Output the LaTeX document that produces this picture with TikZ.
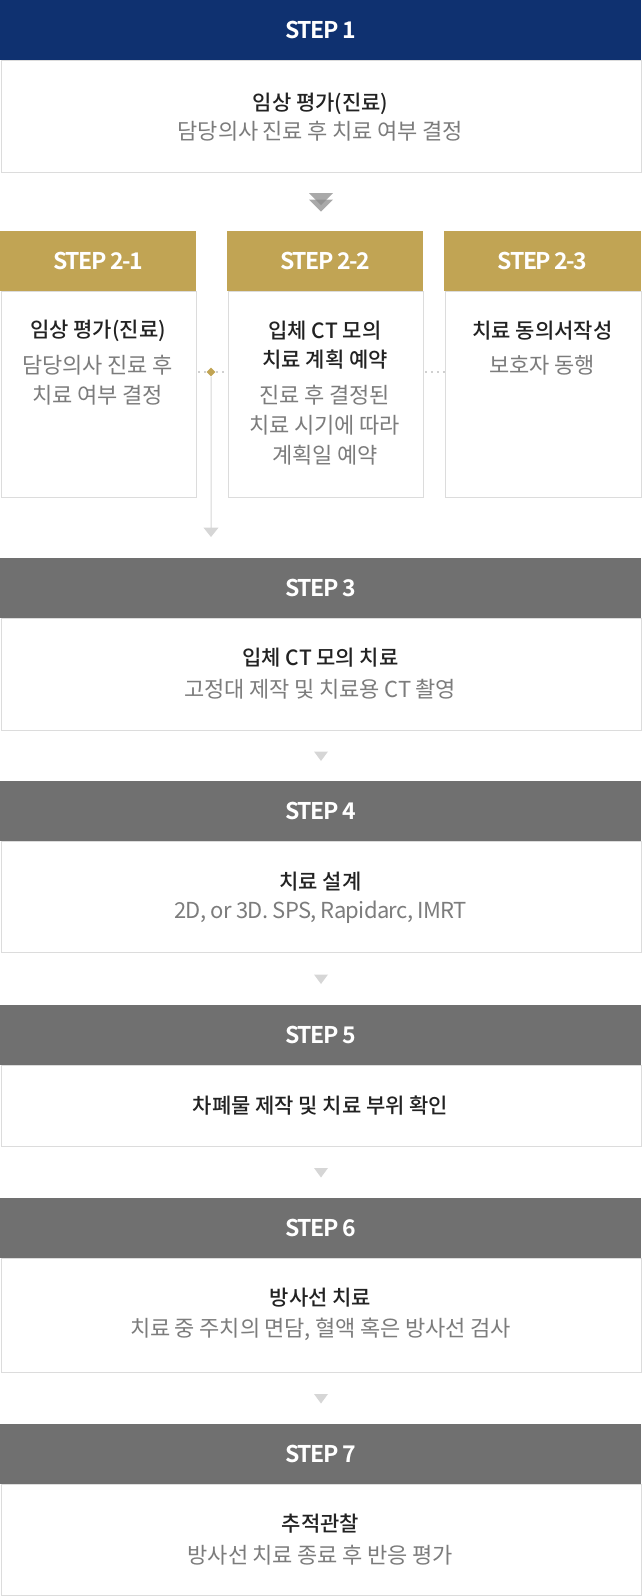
\documentclass[tikz,border=0pt]{standalone}
\usepackage{fontspec}
\setmainfont{Noto Sans CJK KR}
\newfontfamily\krmed{Noto Sans CJK KR Medium}
\newfontfamily\krstep[LetterSpace=-6.5]{Noto Sans CJK KR Bold}
\newfontfamily\krlat[LetterSpace=-3]{Noto Sans CJK KR}
\newfontfamily\krsub[LetterSpace=-1]{Noto Sans CJK KR}
\usetikzlibrary{calc,arrows.meta}
\definecolor{navy}{HTML}{0F3170}
\definecolor{gold}{HTML}{C1A454}
\definecolor{hgray}{HTML}{707070}
\definecolor{bordergray}{HTML}{DCDCDC}
\definecolor{titlec}{HTML}{222222}
\definecolor{subc}{HTML}{7C7C7C}
\definecolor{trigray}{HTML}{D6D6D6}
\definecolor{dblgray}{HTML}{8C8C8C}
\definecolor{dotgray}{HTML}{D0D0D0}
\begin{document}
\begin{tikzpicture}[x=1pt,y=-1pt,
  hdr/.style={anchor=north west, inner sep=0pt, minimum height=60pt, text=white,
    font=\krstep\fontsize{23}{26}\selectfont},
  bodybox/.style={draw=bordergray, line width=1pt, anchor=north west, inner sep=0pt, fill=white},
  ttl/.style={text=titlec, font=\krmed\fontsize{21}{29}\selectfont, align=center, inner sep=0pt},
  sub/.style={text=subc, font=\krsub\fontsize{22}{30}\selectfont, align=center, inner sep=0pt},
  smalltri/.style={fill=trigray},
  dbltri/.style={fill=dblgray, fill opacity=0.75},
  dotline/.style={draw=dotgray, line width=2.2pt, dash pattern=on 2.2pt off 3.8pt},
  vline/.style={draw=trigray, line width=1pt}
]
\useasboundingbox (0,0) rectangle (641,1596);

% STEP 1
\node[bodybox, minimum width=640pt, minimum height=112pt] (b1) at (0.5,59.5) {};
\node[hdr, fill=navy, minimum width=641pt] (h1) at (0,0) {STEP 1};
\node[ttl] (t1) at (320.5,103.5) {임상 평가(진료)};
\node[sub] (s1) at (320.5,131.5) {담당의사 진료 후 치료 여부 결정};

% double arrow
\coordinate (da) at (321,193);
\fill[dbltri] (da) ++(-12,0) -- ++(24,0) -- ++(-12,12) -- cycle;
\fill[dbltri] (da) ++(-12,6.5) -- ++(24,0) -- ++(-12,12) -- cycle;

% STEP 2-x
\node[bodybox, minimum width=195pt, minimum height=206pt] (b21) at (0.5,290.5) {};
\node[hdr, fill=gold, minimum width=196pt] (h21) at (0,231) {STEP 2-1};
\node[bodybox, minimum width=195pt, minimum height=206pt] (b22) at (227.5,290.5) {};
\node[hdr, fill=gold, minimum width=196pt] (h22) at (227,231) {STEP 2-2};
\node[bodybox, minimum width=196pt, minimum height=206pt] (b23) at (444.5,290.5) {};
\node[hdr, fill=gold, minimum width=197pt] (h23) at (444,231) {STEP 2-3};

\node[ttl] (t21) at (98,331) {임상 평가(진료)};
\node[sub] (s21) at (98,380.5) {담당의사 진료 후\\치료 여부 결정};
\node[ttl] (t22) at (325,345.5) {입체 CT 모의\\치료 계획 예약};
\node[sub] (s22) at (325,425) {진료 후 결정된\\치료 시기에 따라\\계획일 예약};
\node[ttl] (t23) at (542.5,331) {치료 동의서작성};
\node[sub] (s23) at (542.5,365) {보호자 동행};

% connectors between step 2 boxes
\coordinate (dy) at (0,372);
\draw[dotline, dash phase=-1.5pt] (b21.east |- dy) -- (b22.west |- dy);
\draw[dotline, dash phase=-1.5pt] (b22.east |- dy) -- (b23.west |- dy);
\node[fill=gold, rotate=45, minimum size=6.2pt, inner sep=0pt] (dia) at (211,372) {};
\coordinate (tip3) at (211,537);
\draw[vline, -{Triangle[width=15pt,length=9.5pt]}, color=trigray] (dia) -- (tip3);

% STEP 3
\node[bodybox, minimum width=640pt, minimum height=112pt] (b3) at (0.5,617.5) {};
\node[hdr, fill=hgray, minimum width=641pt] (h3) at (0,558) {STEP 3};
\node[ttl] (t3) at (320.5,658) {입체 CT 모의 치료};
\node[sub] (s3) at (320.5,689) {고정대 제작 및 치료용 CT 촬영};

\fill[smalltri] ($(b3.south)+(-7,21)$) -- ++(14,0) -- ++(-7,9.5) -- cycle;

% STEP 4
\node[bodybox, minimum width=640pt, minimum height=111pt] (b4) at (0.5,840.5) {};
\node[hdr, fill=hgray, minimum width=641pt] (h4) at (0,781) {STEP 4};
\node[ttl] (t4) at (320.5,881.5) {치료 설계};
\node[sub, font=\krlat\fontsize{22}{30}\selectfont] (s4) at (320.5,912) {2D, or 3D. SPS, Rapidarc, IMRT};

\fill[smalltri] ($(b4.south)+(-7,22)$) -- ++(14,0) -- ++(-7,9.5) -- cycle;

% STEP 5
\node[bodybox, minimum width=640pt, minimum height=81pt] (b5) at (0.5,1064.5) {};
\node[hdr, fill=hgray, minimum width=641pt] (h5) at (0,1005) {STEP 5};
\node[ttl] (t5) at (320.5,1105.5) {차폐물 제작 및 치료 부위 확인};

\fill[smalltri] ($(b5.south)+(-7,21.5)$) -- ++(14,0) -- ++(-7,9.5) -- cycle;

% STEP 6
\node[bodybox, minimum width=640pt, minimum height=114pt] (b6) at (0.5,1257.5) {};
\node[hdr, fill=hgray, minimum width=641pt] (h6) at (0,1198) {STEP 6};
\node[ttl] (t6) at (320.5,1298) {방사선 치료};
\node[sub] (s6) at (320.5,1329) {치료 중 주치의 면담, 혈액 혹은 방사선 검사};

\fill[smalltri] ($(b6.south)+(-7,21.5)$) -- ++(14,0) -- ++(-7,9.5) -- cycle;

% STEP 7
\node[bodybox, minimum width=640pt, minimum height=111pt] (b7) at (0.5,1483.5) {};
\node[hdr, fill=hgray, minimum width=641pt] (h7) at (0,1424) {STEP 7};
\node[ttl] (t7) at (320.5,1524) {추적관찰};
\node[sub] (s7) at (320.5,1555) {방사선 치료 종료 후 반응 평가};
\end{tikzpicture}
\end{document}
